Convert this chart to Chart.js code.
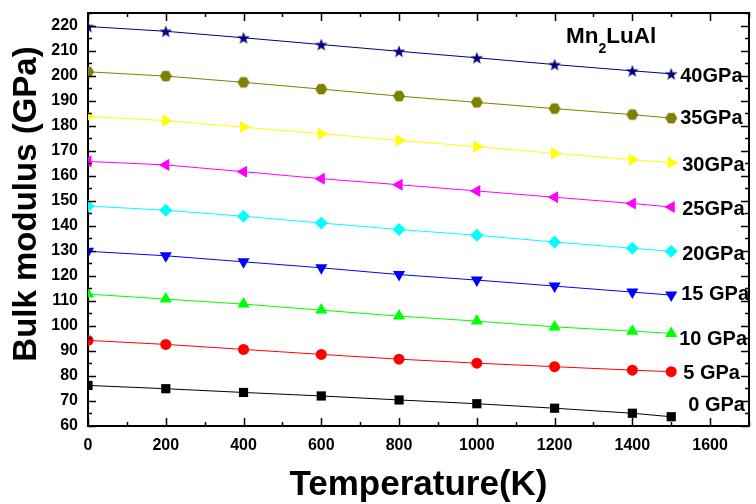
<!DOCTYPE html>
<html>
<head>
<meta charset="utf-8">
<script src="https://cdn.jsdelivr.net/npm/chart.js@4/dist/chart.umd.min.js"></script>
<style>
  html, body { margin: 0; padding: 0; background: #fff; }
  #wrap { width: 756px; height: 504px; }
</style>
</head>
<body>
<div id="wrap"><canvas id="bulkChart" width="756" height="504"></canvas></div>
<script>
// temperature (K) and bulk modulus (GPa) at each pressure
const temperature = [0, 200, 400, 600, 800, 1000, 1200, 1400, 1500];
const b0  = [76.2, 74.9, 73.4, 72.0, 70.4, 68.9, 67.1, 65.1, 63.7];
const b5  = [94.2, 92.6, 90.6, 88.6, 86.7, 85.1, 83.7, 82.3, 81.7];
const b10 = [112.7, 110.7, 108.7, 106.3, 103.9, 101.9, 99.6, 97.9, 97.0];
const b15 = [129.8, 128.0, 125.6, 123.2, 120.5, 118.3, 115.9, 113.5, 112.3];
const b20 = [147.9, 146.2, 143.8, 141.1, 138.5, 136.2, 133.5, 131.0, 129.8];
const b25 = [165.7, 164.3, 161.6, 158.8, 156.4, 153.9, 151.4, 148.9, 147.5];
const b30 = [183.7, 182.0, 179.4, 176.8, 174.1, 171.6, 168.9, 166.4, 165.2];
const b35 = [201.5, 199.8, 197.3, 194.6, 191.8, 189.3, 186.8, 184.4, 183.0];
const b40 = [219.6, 217.7, 215.1, 212.4, 209.7, 207.1, 204.4, 201.9, 200.7];

const pressureLabels = ['0 GPa', '5 GPa', '10 GPa', '15 GPa', '20GPa', '25GPa', '30GPa', '35GPa', '40GPa'];

const FONT = '"Liberation Sans", Arial, Helvetica, sans-serif';

// custom marker shapes
function makeMarker(size, color, drawPath) {
    const c = document.createElement('canvas');
    c.width = size; c.height = size;
    const g = c.getContext('2d');
    g.fillStyle = color;
    g.beginPath();
    drawPath(g, size / 2, size / 2);
    g.closePath();
    g.fill();
    return c;
}

const starMarker = makeMarker(14, '#000080', (g, cx, cy) => {
    const ro = 6.6, ri = 2.7;
    for (let i = 0; i < 10; i++) {
        const r = i % 2 === 0 ? ro : ri;
        const a = -Math.PI / 2 + i * Math.PI / 5;
        const px = cx + r * Math.cos(a), py = cy + 0.6 + r * Math.sin(a);
        if (i === 0) g.moveTo(px, py); else g.lineTo(px, py);
    }
});

const hexMarker = makeMarker(14, '#808000', (g, cx, cy) => {
    const r = 6;
    for (let i = 0; i < 6; i++) {
        const a = i * Math.PI / 3;
        const px = cx + r * Math.cos(a), py = cy + r * Math.sin(a);
        if (i === 0) g.moveTo(px, py); else g.lineTo(px, py);
    }
});

function series(values, color, style, radius, rotation) {
    return {
        data: temperature.map((t, i) => ({ x: t, y: values[i] })),
        showLine: true,
        borderColor: color,
        borderWidth: 1,
        backgroundColor: color,
        pointBackgroundColor: color,
        pointBorderColor: color,
        pointBorderWidth: 0,
        pointStyle: style,
        pointRadius: radius,
        pointRotation: rotation || 0,
        clip: 0
    };
}

// label nudges (px) for each pressure tag, relative to the last point
const tagOffsets = [
    [17, -11.5], [12, 1.5], [8, 6.5], [10, -0.5], [11, 3.5],
    [11, 2.5], [11, 2.5], [9, 0.5], [9, 2.5]
];

const frameAndLabels = {
    id: 'frameAndLabels',
    afterDatasetsDraw(chart) {
        const { ctx, chartArea: a, scales: { x, y } } = chart;
        ctx.save();

        // top and right frame
        ctx.strokeStyle = '#000';
        ctx.lineWidth = 2;
        ctx.beginPath();
        ctx.moveTo(a.left - 1, a.top);
        ctx.lineTo(a.right, a.top);
        ctx.lineTo(a.right, a.bottom + 1);
        ctx.stroke();

        // inward ticks on all four sides
        ctx.lineWidth = 1.5;
        ctx.beginPath();
        for (let v = 0; v <= 1700; v += 100) {
            const px = Math.round(x.getPixelForValue(v)) + 0.5;
            const len = v % 200 === 0 ? 8 : 4;
            ctx.moveTo(px, a.bottom); ctx.lineTo(px, a.bottom - len);
            ctx.moveTo(px, a.top); ctx.lineTo(px, a.top + len);
        }
        for (let v = 60; v <= 225; v += 5) {
            const py = Math.round(y.getPixelForValue(v)) + 0.5;
            const len = v % 10 === 0 ? 8 : 4;
            ctx.moveTo(a.left, py); ctx.lineTo(a.left + len, py);
            ctx.moveTo(a.right, py); ctx.lineTo(a.right - len, py);
        }
        ctx.stroke();

        ctx.fillStyle = '#000';

        // pressure tags beside the last point of each series
        ctx.font = 'bold 20px ' + FONT;
        ctx.textBaseline = 'middle';
        ctx.textAlign = 'left';
        chart.data.datasets.forEach((ds, i) => {
            const last = ds.data[ds.data.length - 1];
            const [dx, dy] = tagOffsets[i];
            ctx.fillText(pressureLabels[i], x.getPixelForValue(last.x) + dx, y.getPixelForValue(last.y) + dy);
        });

        // compound name
        ctx.textBaseline = 'alphabetic';
        let cx = a.right - 183;
        const base = a.top + 30;
        ctx.font = 'bold 22.5px ' + FONT;
        ctx.fillText('Mn', cx, base);
        cx += ctx.measureText('Mn').width;
        ctx.font = 'bold 14px ' + FONT;
        ctx.fillText('2', cx, base + 10);
        cx += ctx.measureText('2').width;
        ctx.font = 'bold 22.5px ' + FONT;
        ctx.fillText('LuAl', cx, base);

        // axis titles
        ctx.font = 'bold 35px ' + FONT;
        ctx.textAlign = 'center';
        ctx.fillText('Temperature(K)', (a.left + a.right) / 2, 495);

        ctx.translate(36, 204);
        ctx.rotate(-Math.PI / 2);
        ctx.font = 'bold 33px ' + FONT;
        ctx.fillText('Bulk modulus (GPa)', 0, 0);

        ctx.restore();
    }
};

new Chart(document.getElementById('bulkChart'), {
    type: 'scatter',
    data: {
        datasets: [
            series(b0, '#000000', 'rect', 6.5),
            series(b5, '#ff0000', 'circle', 5.5),
            series(b10, '#00ff00', 'triangle', 7),
            series(b15, '#0000ff', 'triangle', 7, 180),
            series(b20, '#00ffff', 'rectRot', 6.5),
            series(b25, '#ff00ff', 'triangle', 7, -90),
            series(b30, '#ffff00', 'triangle', 7, 90),
            series(b35, '#808000', hexMarker, 7),
            series(b40, '#000080', starMarker, 7)
        ]
    },
    options: {
        responsive: false,
        animation: false,
        layout: { padding: { top: 13, right: 4, left: 0, bottom: 0 } },
        plugins: {
            legend: { display: false },
            tooltip: { enabled: false }
        },
        scales: {
            x: {
                type: 'linear',
                min: 0,
                max: 1700,
                afterFit: (s) => { s.height = 78; s.paddingLeft = 0; s.paddingRight = 0; },
                grid: { display: false, drawTicks: false },
                border: { display: true, color: '#000', width: 2 },
                ticks: {
                    stepSize: 200,
                    includeBounds: false,
                    padding: 10,
                    color: '#000',
                    font: { family: FONT, size: 16, weight: 'bold' },
                    callback: (v) => String(v)
                }
            },
            y: {
                type: 'linear',
                min: 60,
                max: 225,
                afterFit: (s) => { s.width = 88; s.paddingTop = 0; s.paddingBottom = 0; },
                grid: { display: false, drawTicks: false },
                border: { display: true, color: '#000', width: 2 },
                ticks: {
                    stepSize: 10,
                    includeBounds: false,
                    padding: 10,
                    color: '#000',
                    font: { family: FONT, size: 16, weight: 'bold' },
                    callback: (v) => String(v)
                }
            }
        }
    },
    plugins: [frameAndLabels]
});
</script>
</body>
</html>
